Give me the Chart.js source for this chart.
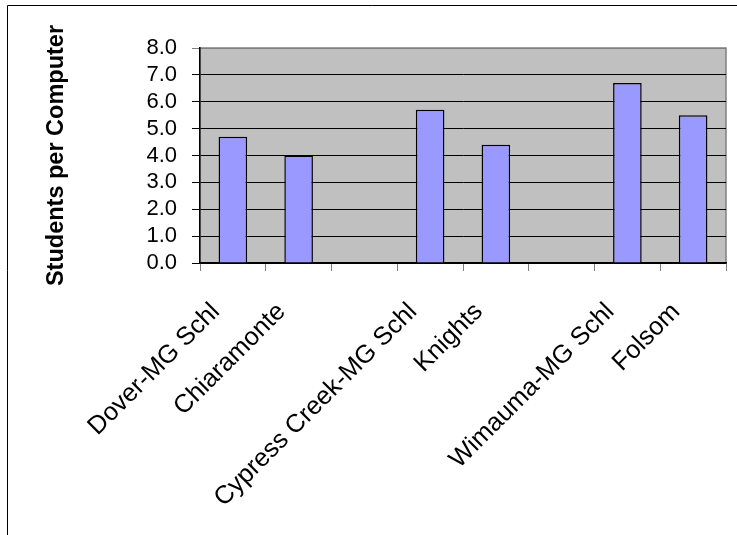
<!DOCTYPE html>
<html>
<head>
<meta charset="utf-8">
<script src="https://cdn.jsdelivr.net/npm/chart.js@4/dist/chart.umd.min.js"></script>
<style>
  html, body { margin: 0; padding: 0; background: #fff; }
  #wrap { width: 737px; height: 535px; }
</style>
</head>
<body>
<div id="wrap"><canvas id="ratioChart"></canvas></div>
<script>
// Datos (los huecos son categorías vacías)
const schools = ['Dover-MG Schl', 'Chiaramonte', '', 'Cypress Creek-MG Schl', 'Knights', '', 'Wimauma-MG Schl', 'Folsom'];
const studentsPerComputer = [4.7, 4.0, null, 5.7, 4.4, null, 6.7, 5.5];
const yTicks = [0, 1, 2, 3, 4, 5, 6, 7, 8];

const FONT = 'Liberation Sans, Arial, sans-serif';

// Fondo gris del área de trazado y marco exterior
const backdrop = {
    id: 'backdrop',
    beforeDraw(chart) {
        const { ctx, chartArea: a, width, height } = chart;
        ctx.save();
        ctx.fillStyle = '#fff';
        ctx.fillRect(0, 0, width, height);
        ctx.strokeStyle = '#000';
        ctx.lineWidth = 1;
        ctx.beginPath();
        ctx.moveTo(7.5, height);
        ctx.lineTo(7.5, 5.5);
        ctx.lineTo(width, 5.5);
        ctx.stroke();
        ctx.fillStyle = '#C0C0C0';
        ctx.fillRect(a.left, a.top, a.right - a.left, a.bottom - a.top);
        ctx.strokeStyle = '#808080';
        ctx.lineWidth = 1.5;
        ctx.strokeRect(a.left, a.top, a.right - a.left, a.bottom - a.top);
        ctx.restore();
    }
};

document.addEventListener('DOMContentLoaded', function() {
    try {
        const canvas = document.getElementById('ratioChart');
        new Chart(canvas.getContext('2d'), {
            type: 'bar',
            data: {
                labels: schools,
                datasets: [{
                    label: 'Students per Computer',
                    data: studentsPerComputer,
                    backgroundColor: '#9999FF',
                    borderColor: '#000',
                    borderWidth: 1.5,
                    categoryPercentage: 1,
                    barPercentage: 0.435
                }]
            },
            options: {
                responsive: true,
                maintainAspectRatio: false,
                animation: false,
                layout: { padding: { left: 0, top: 48, right: 11, bottom: 0 } },
                plugins: {
                    legend: { display: false },
                    tooltip: { enabled: false }
                },
                scales: {
                    x: {
                        grid: {
                            offset: true,
                            drawOnChartArea: false,
                            tickLength: 8,
                            color: '#808080'
                        },
                        border: { color: '#000', width: 1.5 },
                        ticks: {
                            autoSkip: false,
                            minRotation: 45,
                            maxRotation: 45,
                            padding: 26,
                            labelOffset: -17,
                            color: '#000',
                            font: { family: FONT, size: 25.5 }
                        },
                        afterFit(scale) {
                            scale.height = 272;
                            scale.paddingLeft = 0;
                            scale.paddingRight = 0;
                        }
                    },
                    y: {
                        min: 0,
                        max: 8,
                        afterBuildTicks(scale) { scale.ticks = yTicks.map(v => ({ value: v })); },
                        grid: {
                            tickLength: 8,
                            lineWidth: 1,
                            color: ctx => (ctx.tick && ctx.tick.value === 8) ? '#808080' : '#000'
                        },
                        border: { color: '#000', width: 1.5 },
                        ticks: {
                            autoSkip: false,
                            padding: 15,
                            color: '#000',
                            font: { family: FONT, size: 22 },
                            callback: v => Number(v).toFixed(1)
                        },
                        title: {
                            display: true,
                            text: 'Students per Computer',
                            color: '#000',
                            font: { family: FONT, size: 23.5, weight: 'bold' },
                            padding: { top: 42, bottom: 0 }
                        },
                        afterFit(scale) { scale.width = 200; }
                    }
                }
            },
            plugins: [backdrop]
        });
    } catch (e) { console.error('chart init', e); }
});
</script>
</body>
</html>
